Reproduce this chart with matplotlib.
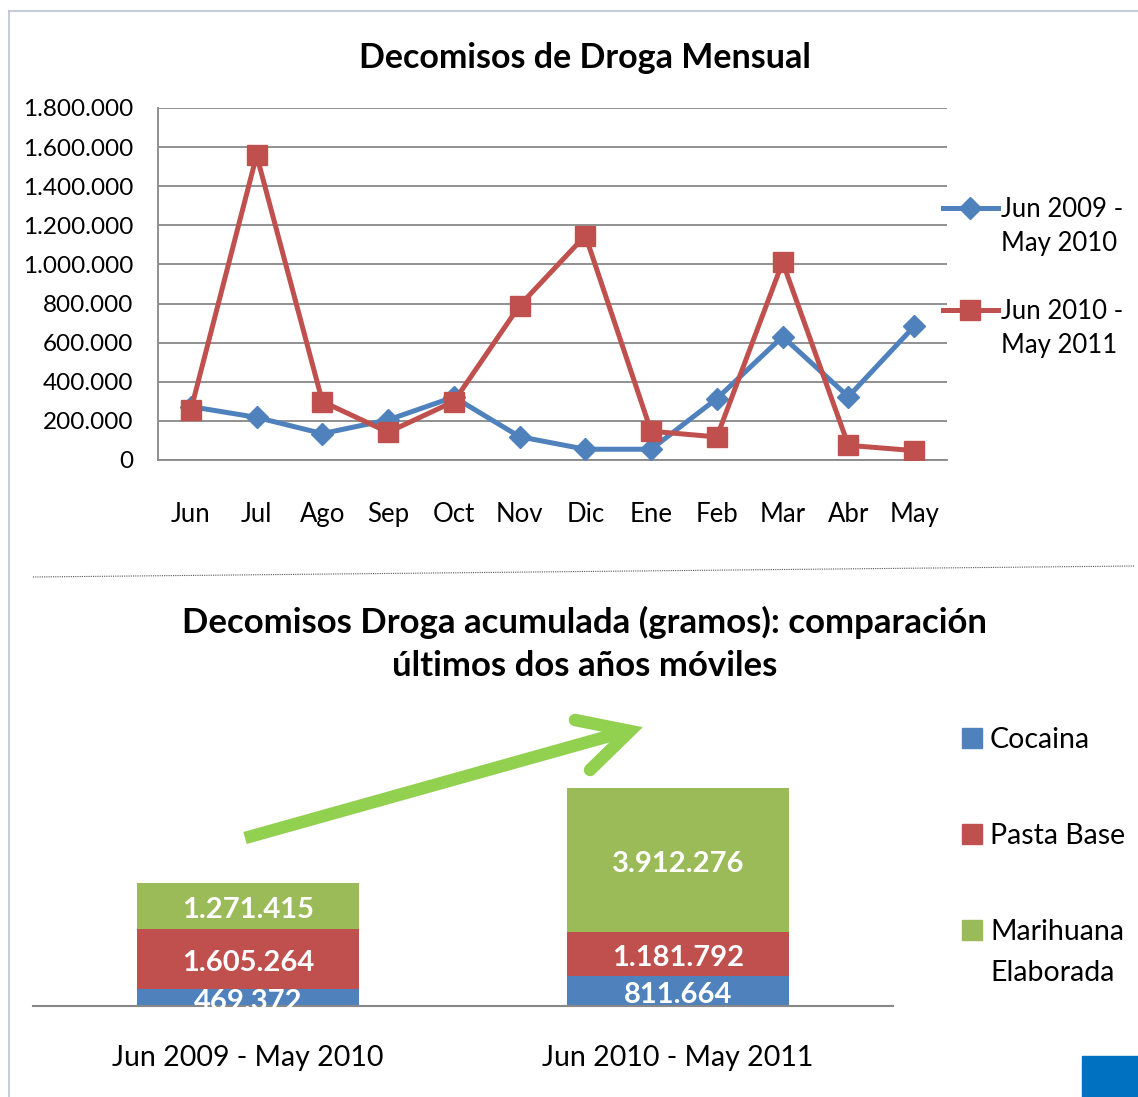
import matplotlib
matplotlib.use("Agg")
import matplotlib.pyplot as plt
from matplotlib.patches import Rectangle
from matplotlib.lines import Line2D
from matplotlib.ticker import FuncFormatter

plt.rcParams['font.family'] = ['Lato', 'DejaVu Sans']

# datos mensuales
meses = ["Jun", "Jul", "Ago", "Sep", "Oct", "Nov", "Dic", "Ene", "Feb", "Mar", "Abr", "May"]
serie_2009 = [273000, 218000, 135000, 205000, 322000, 119000, 55000, 55000, 314000, 631000, 324000, 683000]
serie_2010 = [256000, 1558000, 299000, 142000, 299000, 790000, 1148000, 147000, 118000, 1012000, 75000, 48000]
nombres_series = ["Jun 2009 -\nMay 2010", "Jun 2010 -\nMay 2011"]

# datos acumulados
periodos = ["Jun 2009 - May 2010", "Jun 2010 - May 2011"]
cocaina = [469372, 811664]
pasta_base = [1605264, 1181792]
marihuana = [1271415, 3912276]
drogas = ["Cocaina", "Pasta Base", "Marihuana\nElaborada"]

azul = "#4F81BD"
rojo = "#C0504D"
verde = "#9BBB59"

W, H = 1138, 1097
fig = plt.figure(figsize=(W / 100, H / 100), dpi=100)


def fx(px):
    return px / W


def fy(py):
    return 1 - py / H


def miles(v, pos=None):
    return f"{int(round(v)):,}".replace(",", ".")


# marco
fig.add_artist(Line2D([fx(9), fx(9)], [fy(11), 0], color="#B9C3D3", lw=1.2))
fig.add_artist(Line2D([fx(9), 1], [fy(11), fy(11)], color="#B9C3D3", lw=1.2))

# ---- grafico de lineas ----
ax1 = fig.add_axes([fx(158), fy(460), fx(947) - fx(158), fy(108) - fy(460)])
x = list(range(len(meses)))
ax1.plot(x, serie_2009, color=azul, lw=3.6, marker="D", markersize=11, zorder=3)
ax1.plot(x, serie_2010, color=rojo, lw=3.6, marker="s", markersize=14, zorder=4)
ax1.set_xlim(-0.5, len(meses) - 0.5)
ax1.set_ylim(0, 1800000)
ax1.set_yticks(range(0, 1800001, 200000))
ax1.yaxis.set_major_formatter(FuncFormatter(miles))
ax1.set_xticks(x)
ax1.set_xticklabels(meses)
ax1.grid(axis="y", color="#888888", lw=1.3)
ax1.set_axisbelow(True)
for s in ["top", "right"]:
    ax1.spines[s].set_visible(False)
for s in ["left", "bottom"]:
    ax1.spines[s].set_color("#888888")
    ax1.spines[s].set_linewidth(1.3)
ax1.tick_params(axis="y", length=0, labelsize=17.5, pad=18)
ax1.tick_params(axis="x", length=0, labelsize=18.5, pad=30)

# leyenda lineas (manual)
for nombre, c, m, ms, yy in [(nombres_series[0], azul, "D", 11, 208), (nombres_series[1], rojo, "s", 14, 310)]:
    fig.add_artist(Line2D([fx(943), fx(998)], [fy(yy), fy(yy)], color=c, lw=3.6))
    fig.add_artist(Line2D([fx(970)], [fy(yy)], color=c, marker=m, markersize=ms))
    fig.text(fx(1001), fy(yy - 11), nombre, ha="left", va="top", fontsize=18.5, linespacing=1.47)

fig.text(fx(585), fy(58), "Decomisos de Droga Mensual", ha="center", va="center",
         fontsize=24.5, fontweight="bold")

# separador punteado
fig.add_artist(Line2D([fx(33), fx(1135)], [fy(577), fy(566)], color="#555555", lw=0.8, ls=(0, (1, 1))))

# ---- grafico de barras ----
escala = 36.9e-6
ymax = 7e6
ax2 = fig.add_axes([fx(33), fy(1006), fx(893) - fx(33), ymax * escala / H])
xb = [0, 1]
ancho = 0.514
base2 = [c + p for c, p in zip(cocaina, pasta_base)]
ax2.bar(xb, cocaina, width=ancho, color=azul)
ax2.bar(xb, pasta_base, width=ancho, bottom=cocaina, color=rojo)
ax2.bar(xb, marihuana, width=ancho, bottom=base2, color=verde)
for vals, bottoms in [(cocaina, [0, 0]), (pasta_base, cocaina), (marihuana, base2)]:
    for xi, v, b in zip(xb, vals, bottoms):
        t = ax2.annotate(miles(v), (xi, b + v / 2), xytext=(0, -3), textcoords="offset points",
                         ha="center", va="center", color="white", fontsize=21, fontweight="bold")
        t.set_clip_on(True)
ax2.set_xlim(-0.5, 1.5)
ax2.set_ylim(0, ymax)
ax2.set_yticks([])
ax2.set_xticks(xb)
ax2.set_xticklabels(periodos)
for s in ["top", "right", "left"]:
    ax2.spines[s].set_visible(False)
ax2.spines["bottom"].set_color("#888888")
ax2.spines["bottom"].set_linewidth(1.5)
ax2.tick_params(axis="x", length=0, labelsize=20.5, pad=28)
ax2.patch.set_alpha(0)

fig.text(fx(585), fy(644), "Decomisos Droga acumulada (gramos): comparación\núltimos dos años móviles",
         ha="center", va="center", fontsize=25, fontweight="bold", linespacing=1.42)

# flecha verde
fig.add_artist(Line2D([fx(245), fx(620)], [fy(838), fy(733)], color="#92D050", lw=9, solid_capstyle="butt"))
fig.add_artist(Line2D([fx(575), fx(630), fx(590)], [fy(720), fy(731), fy(770)], color="#92D050", lw=9,
                      solid_joinstyle="miter", solid_capstyle="round"))

# leyenda barras
colores = [azul, rojo, verde]
ys = [738, 834, 930]
for nombre, c, yy in zip(drogas, colores, ys):
    fig.add_artist(Rectangle((fx(962), fy(yy + 10)), fx(20), 20 / H, color=c, transform=fig.transFigure))
    fig.text(fx(990), fy(yy - 11), nombre, ha="left", va="top", fontsize=20.5, linespacing=1.7)

# recuadro azul esquina
fig.add_artist(Rectangle((fx(1082), 0), 1 - fx(1082), 41 / H, color="#0070C0", transform=fig.transFigure))

fig.savefig("out.png", dpi=100)
